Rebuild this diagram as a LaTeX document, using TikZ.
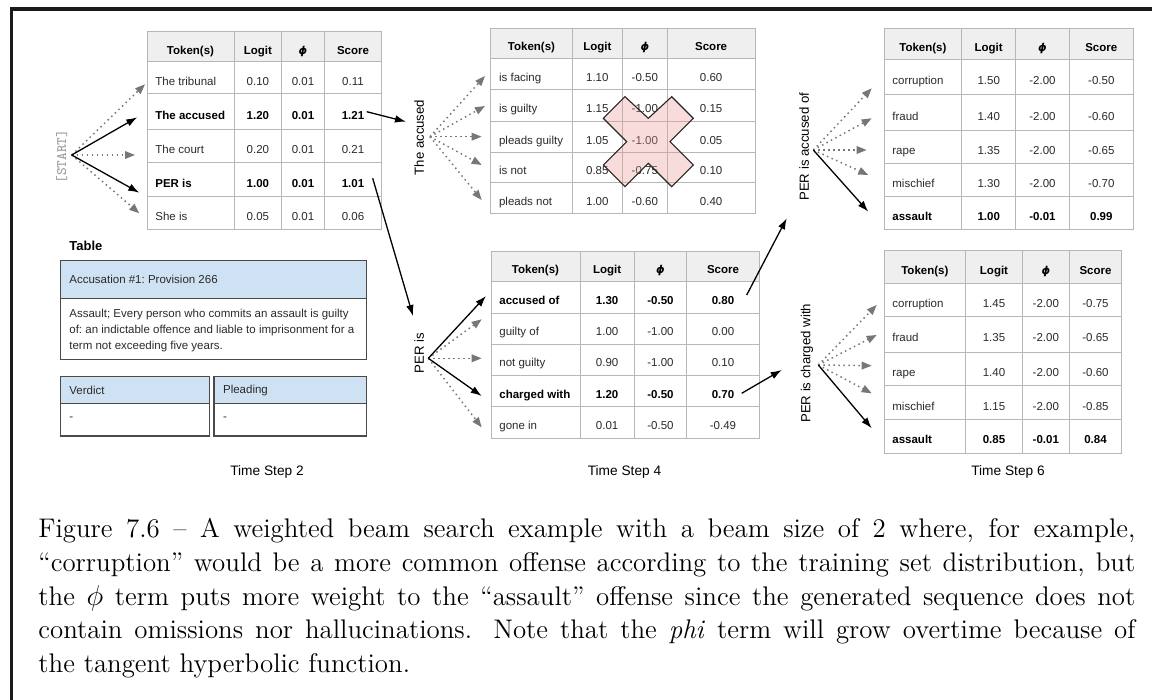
\documentclass[tikz,border=0pt]{standalone}
\usepackage{fontspec}
\newfontfamily\arial{Liberation Sans}
\newfontfamily\dejavu{DejaVu Sans}
\usetikzlibrary{arrows.meta}

\definecolor{gridgray}{HTML}{B7B7B7}
\definecolor{headgray}{HTML}{EFEFEF}
\definecolor{boxblue}{HTML}{CFE2F3}
\definecolor{boxline}{HTML}{4A4A4A}
\definecolor{dotgray}{HTML}{777777}
\definecolor{crossfill}{HTML}{EA9999}
\definecolor{inkdark}{HTML}{2A2A2A}
\definecolor{framecol}{HTML}{1A1A1A}
\definecolor{startgray}{HTML}{9A9A9A}

\newcommand\tabfont{\arial\fontsize{5.75}{7}\selectfont\frenchspacing}
\newcommand\phisym{{\dejavu\bfseries\itshape\fontsize{5.4}{7}\selectfont ϕ}}

\tikzset{
  gridline/.style={draw=gridgray, line width=0.5pt},
  cell/.style={font=\tabfont, text=inkdark, inner sep=0pt, text height=0.716em, text depth=0pt},
  boldcell/.style={font=\tabfont\bfseries, text=black},
  vlabel/.style={font=\arial\fontsize{6.6}{8}\selectfont, rotate=90, inner sep=0pt, text height=0.716em, text depth=0pt},
  steplabel/.style={font=\arial\fontsize{6.85}{8}\selectfont, inner sep=0pt},
  panelbox/.style={draw=boxline, line width=0.6pt},
  paneltext/.style={font=\tabfont, text=inkdark, inner sep=0pt, anchor=west},
  beam/.style={draw=black, line width=0.65pt, -{Latex[length=5.5pt,width=3.8pt]}},
  pruned/.style={draw=dotgray, line width=0.75pt, dash pattern=on 0.75pt off 1.75pt,
    -{Triangle[length=5pt,width=3.8pt]}},
}

% column positions of the table being drawn
\newcommand\setcols[5]{\def\xa{#1}\def\xb{#2}\def\xc{#3}\def\xd{#4}\def\xe{#5}}
% grey header band and header texts
\newcommand\thead[3]{%
  \path[fill=headgray] (\xa,#2) rectangle (\xe,#3);
  \node[cell,boldcell] (#1-tok)   at ({(\xa+\xb)/2},{(#2+#3)/2}) {Token(s)};
  \node[cell,boldcell] (#1-logit) at ({(\xb+\xc)/2},{(#2+#3)/2}) {Logit};
  \node[cell,boldcell] (#1-phi)   at ({(\xc+\xd)/2},{(#2+#3)/2}) {\phisym};
  \node[cell,boldcell] (#1-score) at ({(\xd+\xe)/2},{(#2+#3)/2}) {Score};
}
% ruling of a 4 x 6 table, given the seven row boundaries
\newcommand\tgrid[7]{%
  \draw[gridline] (\xa,#1) rectangle (\xe,#7);
  \draw[gridline] (\xa,#2) -- (\xe,#2) (\xa,#3) -- (\xe,#3) (\xa,#4) -- (\xe,#4)
                  (\xa,#5) -- (\xe,#5) (\xa,#6) -- (\xe,#6);
  \draw[gridline] (\xb,#1) -- (\xb,#7) (\xc,#1) -- (\xc,#7) (\xd,#1) -- (\xd,#7);
}
% one body row: [style]{name}{top}{bottom}{token}{logit}{phi}{score}
\newcommand\trow[8][]{%
  \node[cell,anchor=west,#1] (#2-tok)   at ({\xa+8},{(#3+#4)/2}) {#5};
  \node[cell,#1]             (#2-logit) at ({(\xb+\xc)/2},{(#3+#4)/2}) {#6};
  \node[cell,#1]             (#2-phi)   at ({(\xc+\xd)/2},{(#3+#4)/2}) {#7};
  \node[cell,#1]             (#2-score) at ({(\xd+\xe)/2},{(#3+#4)/2}) {#8};
}

\begin{document}
\begin{tikzpicture}[x=0.5pt,y=-0.5pt]
\useasboundingbox (0,0) rectangle (1152,700);
\clip (0,0) rectangle (1152,700);

% page frame
\draw[framecol, line width=1.75pt] (11.3,720) -- (11.3,9) -- (1170,9);

% ---------- time step 2 ----------
\setcols{147}{234}{281.7}{324.3}{381.7}
\thead{tA}{32}{62}
\tgrid{32}{62}{94}{130}{163}{197}{230}
\trow{tA1}{62}{94}{The tribunal}{0.10}{0.01}{0.11}
\trow[boldcell]{tA2}{94}{130}{The accused}{1.20}{0.01}{1.21}
\trow{tA3}{130}{163}{The court}{0.20}{0.01}{0.21}
\trow[boldcell]{tA4}{163}{197}{PER is}{1.00}{0.01}{1.01}
\trow{tA5}{197}{230}{She is}{0.05}{0.01}{0.06}

\node[font=\ttfamily\fontsize{7.2}{8}\selectfont, text=startgray, rotate=90, inner sep=0pt] (start) at (61.7,156.7) {[START]};
\coordinate (fanA) at (71.7,155);
\coordinate (aA1) at (145,84.3);
\coordinate (aA2) at (137.3,117.3);
\coordinate (aA3) at (135,155);
\coordinate (aA4) at (139.3,192.7);
\coordinate (aA5) at (139.3,213.3);
\draw[pruned] (fanA) -- (aA1);
\draw[pruned] (fanA) -- (aA3);
\draw[pruned] (fanA) -- (aA5);
\draw[beam] (fanA) -- (aA2);
\draw[beam] (fanA) -- (aA4);

% table panel
\node[font=\arial\bfseries\fontsize{6.5}{8}\selectfont, anchor=west, inner sep=0pt] (tabtitle) at (69,246) {Table};
\path[fill=boxblue] (60.7,260.7) rectangle (366.7,298.3);
\draw[panelbox] (60.7,260.7) rectangle (366.7,359.3) (60.7,298.3) -- (366.7,298.3);
\node[paneltext] (acchead) at (69,279.5) {Accusation \#1: Provision 266};
\node[paneltext, align=left, font=\tabfont\fontsize{5.75}{7.85}\selectfont] (accbody) at (69,330.5)
  {Assault; Every person who commits an assault is guilty\\of: an indictable offence and liable to imprisonment for a\\term not exceeding five years.};
\path[fill=boxblue] (60.7,376.7) rectangle (209.3,403.3) (214,376.7) rectangle (366.7,403.3);
\draw[panelbox] (60.7,376.7) rectangle (209.3,436) (60.7,403.3) -- (209.3,403.3);
\draw[panelbox] (214,376.7) rectangle (366.7,436) (214,403.3) -- (366.7,403.3);
\node[paneltext] (verdict) at (69,390.7) {Verdict};
\node[paneltext] (verdictval) at (69,419) {-};
\node[paneltext] (pleading) at (222.7,390.7) {Pleading};
\node[paneltext] (pleadingval) at (222.7,419) {-};

\node[steplabel] (stepA) at (267,472) {Time Step 2};

% ---------- time step 4 ----------
\setcols{490.7}{572.3}{622.3}{667.3}{755}
\thead{tB}{28.3}{59}
\tgrid{28.3}{59}{89.3}{121.7}{152.3}{182.7}{213.3}
\trow{tB1}{59}{89.3}{is facing}{1.10}{-0.50}{0.60}
\trow{tB2}{89.3}{121.7}{is guilty}{1.15}{-1.00}{0.15}
\trow{tB3}{121.7}{152.3}{pleads guilty}{1.05}{-1.00}{0.05}
\trow{tB4}{152.3}{182.7}{is not}{0.85}{-0.75}{0.10}
\trow{tB5}{182.7}{213.3}{pleads not}{1.00}{-0.60}{0.40}

% pruned branch
\draw[draw=black!85, line width=0.55pt, fill=crossfill, fill opacity=0.35]
  (625,96.7) -- (648.3,118.3) -- (671.7,96.7) -- (693.3,118.3) -- (670,141.7)
  -- (693.3,165) -- (671.7,186.7) -- (648.3,163.3) -- (625,186.7) -- (603.3,165)
  -- (626.7,141.7) -- (603.3,118.3) -- cycle;

\setcols{491}{580}{634.3}{686.7}{759.3}
\thead{tC}{251.7}{281.7}
\tgrid{251.7}{281.7}{313.3}{344.3}{375.3}{406.7}{438.3}
\trow[boldcell]{tC1}{281.7}{313.3}{accused of}{1.30}{-0.50}{0.80}
\trow{tC2}{313.3}{344.3}{guilty of}{1.00}{-1.00}{0.00}
\trow{tC3}{344.3}{375.3}{not guilty}{0.90}{-1.00}{0.10}
\trow[boldcell]{tC4}{375.3}{406.7}{charged with}{1.20}{-0.50}{0.70}
\trow{tC5}{406.7}{438.3}{gone in}{0.01}{-0.50}{-0.49}

\node[vlabel] (labB) at (416.7,137.5) {The accused};
\node[vlabel] (labC) at (416.7,353) {PER is};

\coordinate (fromA2) at (366.7,111.7);
\coordinate (toB) at (406,121.7);
\coordinate (fromA4) at (372.7,178.3);
\coordinate (toC) at (413,316);
\draw[beam] (fromA2) -- (toB);
\draw[beam] (fromA4) -- (toC);

\coordinate (fanB) at (430,136.7);
\coordinate (aB1) at (485,76);
\coordinate (aB2) at (485,106);
\coordinate (aB3) at (481.7,136.7);
\coordinate (aB4) at (481.7,165);
\coordinate (aB5) at (481.7,200);
\foreach \t in {aB1,aB2,aB3,aB4,aB5} \draw[pruned] (fanB) -- (\t);

\coordinate (fanC) at (428.3,358.3);
\coordinate (aC1) at (486,296);
\coordinate (aC2) at (481.7,319.3);
\coordinate (aC3) at (481.7,358.3);
\coordinate (aC4) at (481.7,396);
\coordinate (aC5) at (481.7,427.3);
\draw[pruned] (fanC) -- (aC2);
\draw[pruned] (fanC) -- (aC3);
\draw[pruned] (fanC) -- (aC5);
\draw[beam] (fanC) -- (aC1);
\draw[beam] (fanC) -- (aC4);

\node[steplabel] (stepB) at (624.5,472) {Time Step 4};

% ---------- time step 6 ----------
\setcols{884}{961.7}{1015.7}{1069.3}{1133.3}
\thead{tD}{29}{60}
\tgrid{29}{60}{95}{131}{163.3}{196.7}{230}
\trow{tD1}{60}{95}{corruption}{1.50}{-2.00}{-0.50}
\trow{tD2}{95}{131}{fraud}{1.40}{-2.00}{-0.60}
\trow{tD3}{131}{163.3}{rape}{1.35}{-2.00}{-0.65}
\trow{tD4}{163.3}{196.7}{mischief}{1.30}{-2.00}{-0.70}
\trow[boldcell]{tD5}{196.7}{230}{assault}{1.00}{-0.01}{0.99}

\setcols{884}{965.7}{1022.3}{1069.3}{1121.7}
\thead{tE}{250.7}{284}
\tgrid{250.7}{284}{316.7}{352.3}{385.7}{420}{453.3}
\trow{tE1}{284}{316.7}{corruption}{1.45}{-2.00}{-0.75}
\trow{tE2}{316.7}{352.3}{fraud}{1.35}{-2.00}{-0.65}
\trow{tE3}{352.3}{385.7}{rape}{1.40}{-2.00}{-0.60}
\trow{tE4}{385.7}{420}{mischief}{1.15}{-2.00}{-0.85}
\trow[boldcell]{tE5}{420}{453.3}{assault}{0.85}{-0.01}{0.84}

\node[vlabel] (labD) at (801.7,146.7) {PER is accused of};
\node[vlabel] (labE) at (803.3,363.3) {PER is charged with};

\coordinate (fromC1) at (746.7,295);
\coordinate (toD) at (786.7,218.3);
\coordinate (fromC4) at (741.7,393.3);
\coordinate (toE) at (781.7,370);
\draw[beam] (fromC1) -- (toD);
\draw[beam] (fromC4) -- (toE);

\coordinate (fanD) at (813.3,150);
\coordinate (aD1) at (871.7,88.3);
\coordinate (aD2) at (871.7,118.3);
\coordinate (aD3) at (866.7,150);
\coordinate (aD4) at (868.3,175);
\coordinate (aD5) at (868.3,211.7);
\foreach \t in {aD1,aD2,aD3,aD4} \draw[pruned] (fanD) -- (\t);
\draw[beam] (fanD) -- (aD5);

\coordinate (fanE) at (818.3,365);
\coordinate (aE1) at (876.7,305);
\coordinate (aE2) at (876.7,335);
\coordinate (aE3) at (871.7,365.7);
\coordinate (aE4) at (871.7,393.3);
\coordinate (aE5) at (871.7,428.3);
\foreach \t in {aE1,aE2,aE3,aE4} \draw[pruned] (fanE) -- (\t);
\draw[beam] (fanE) -- (aE5);

\node[steplabel] (stepC) at (1008,472) {Time Step 6};

% ---------- caption ----------
\node[anchor=north west, inner sep=0pt, text width=548.5pt, align=justify,
      font=\fontsize{13.45}{16.85}\selectfont] (caption) at (38,518)
{Figure 7.6 – A weighted beam search example with a beam size of 2 where, for example,\linebreak
“corruption” would be a more common offense according to the training set distribution, but\linebreak
the $\phi$ term puts more weight to the “assault” offense since the generated sequence does not\linebreak
contain omissions nor hallucinations. Note that the \textit{phi} term will grow overtime because of\linebreak
the tangent hyperbolic function.};
\end{tikzpicture}
\end{document}
